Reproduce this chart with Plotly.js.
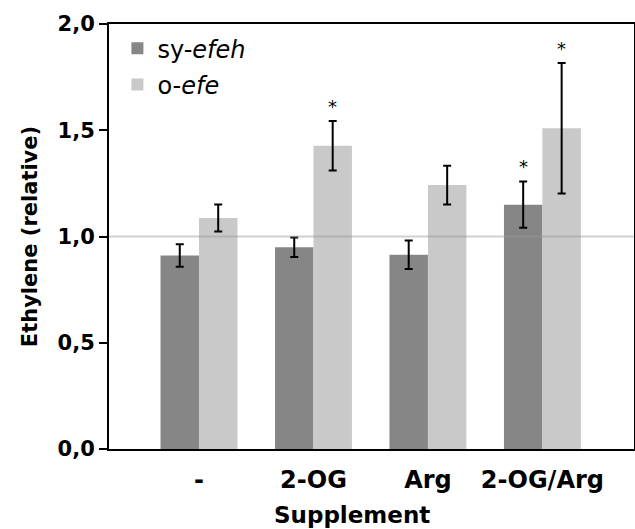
<!DOCTYPE html>
<html>
<head>
<meta charset="utf-8">
<script src="https://cdn.plot.ly/plotly-3.0.1.min.js"></script>
<style>html,body{margin:0;padding:0;background:#fff;}#chart{width:635px;height:529px;}</style>
</head>
<body>
<div id="chart"></div>
<script>
const categories = ['-', '2-OG', 'Arg', '2-OG/Arg'];
const syValues = [0.911, 0.949, 0.914, 1.150];
const syErrors = [0.053, 0.046, 0.067, 0.109];
const oValues = [1.087, 1.427, 1.242, 1.509];
const oErrors = [0.064, 0.116, 0.091, 0.307];
const sySignificant = [false, false, false, true];
const oSignificant = [false, true, false, true];
const seriesNames = ['sy-<i>efeh</i>', 'o-<i>efe</i>'];
const yTicks = [0, 0.5, 1.0, 1.5, 2.0];

const FONT = 'DejaVu Sans, Liberation Sans, Arial, sans-serif';

const errStyle = {type: 'data', visible: true, color: '#000', thickness: 2, width: 4};

const traces = [
  {
    type: 'bar', name: seriesNames[0], x: categories, y: syValues,
    error_y: Object.assign({array: syErrors}, errStyle),
    marker: {color: '#868686', line: {width: 0}},
    legendgroup: 'a', offsetgroup: 'a'
  },
  {
    type: 'bar', name: seriesNames[1], x: categories, y: oValues,
    error_y: Object.assign({array: oErrors}, errStyle),
    marker: {color: '#c9c9c9', line: {width: 0}},
    legendgroup: 'b', offsetgroup: 'b'
  }
];

const annotations = [];
const off = 0.168;
categories.forEach((c, i) => {
  if (sySignificant[i]) annotations.push({x: i - off, y: syValues[i] + syErrors[i], xref: 'x', yref: 'y', text: '*', showarrow: false, yshift: 15, font: {family: FONT, size: 18, color: '#000'}});
  if (oSignificant[i]) annotations.push({x: i + off, y: oValues[i] + oErrors[i], xref: 'x', yref: 'y', text: '*', showarrow: false, yshift: 15, font: {family: FONT, size: 18, color: '#000'}});
});
annotations.push({xref: 'paper', yref: 'paper', x: 0.462, y: 0, yshift: -51, xanchor: 'center', yanchor: 'top', text: '<b>Supplement</b>', showarrow: false, font: {family: FONT, size: 23, color: '#000'}});

const layout = {
  width: 635, height: 529,
  margin: {l: 109, r: 1, t: 24, b: 80},
  paper_bgcolor: '#fff', plot_bgcolor: '#fff',
  separators: ',.',
  font: {family: FONT, color: '#000'},
  barmode: 'group', bargap: 0.328, bargroupgap: 0,
  showlegend: true,
  legend: {x: 0.016, y: 0.995, xanchor: 'left', yanchor: 'top', bgcolor: 'rgba(0,0,0,0)', traceorder: 'grouped', tracegroupgap: 2, font: {family: FONT, size: 24, color: '#000'}},
  xaxis: {
    type: 'category', range: [-0.786, 3.8], showline: true, linecolor: '#000', linewidth: 2, mirror: true,
    ticks: '', showgrid: false, zeroline: false, fixedrange: true,
    tickfont: {family: FONT, size: 24, color: '#000', weight: 'bold'},
    ticklabelstandoff: 8
  },
  yaxis: {
    range: [0, 2.0], tickvals: yTicks, tickformat: '.1f', showline: true, linecolor: '#000', linewidth: 2, mirror: true,
    ticks: 'outside', ticklen: 8, tickwidth: 2, tickcolor: '#000', showgrid: false, zeroline: false,
    tickfont: {family: FONT, size: 21, color: '#000', weight: 'bold'},
    title: {text: '<b>Ethylene (relative)</b>', font: {family: FONT, size: 21, color: '#000'}, standoff: 14}
  },
  shapes: [
    {type: 'line', xref: 'paper', yref: 'y', x0: 0, x1: 1, y0: 1, y1: 1, layer: 'above', line: {color: 'rgba(150,150,150,0.45)', width: 2}}
  ],
  annotations: annotations
};

Plotly.newPlot('chart', traces, layout, {displayModeBar: false, staticPlot: true});
</script>
</body>
</html>
